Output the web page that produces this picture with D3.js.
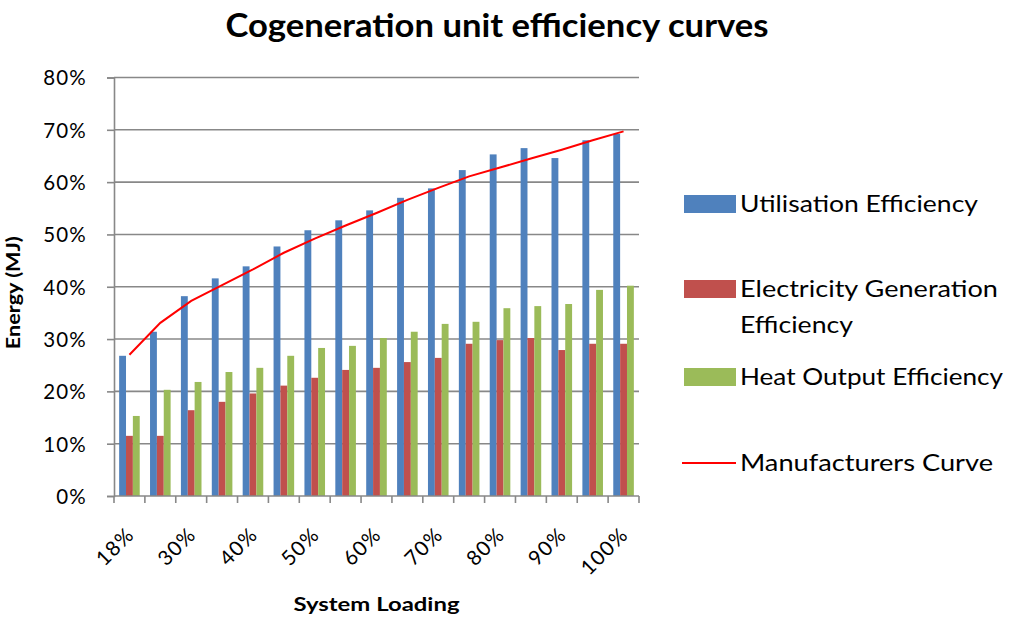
<!DOCTYPE html>
<html>
<head>
<meta charset="utf-8">
<script src="https://cdn.jsdelivr.net/npm/d3@7"></script>
<style>
  body { margin: 0; background: #fff; }
  svg { display: block; font-family: Lato, "Open Sans", sans-serif; }
</style>
</head>
<body>
<svg id="chart" width="1013" height="622"></svg>
<script>
// system loading categories (only every other one gets a label)
const categories = ['18%', '25%', '30%', '35%', '40%', '45%', '50%', '55%', '60%',
  '65%', '70%', '75%', '80%', '85%', '90%', '95%', '100%'];

// values in percent
const utilisation = [26.8, 31.4, 38.2, 41.6, 43.9, 47.7, 50.8, 52.7, 54.6, 57.0, 58.8, 62.3, 65.3, 66.5, 64.6, 68.0, 69.2];
const electricity = [11.5, 11.5, 16.4, 18.0, 19.6, 21.1, 22.6, 24.1, 24.5, 25.6, 26.4, 29.1, 29.8, 30.2, 27.9, 29.1, 29.1];
const heat = [15.3, 20.3, 21.8, 23.7, 24.5, 26.8, 28.3, 28.7, 30.2, 31.4, 32.9, 33.3, 35.9, 36.3, 36.7, 39.4, 40.2];
const manufacturers = [27.0, 33.1, 37.3, 40.3, 43.3, 46.5, 49.2, 51.7, 54.1, 56.6, 58.9, 61.1, 62.8, 64.5, 66.2, 68.0, 69.7];

const yTicks = [0, 10, 20, 30, 40, 50, 60, 70, 80];

const barSeries = [
  { name: 'Utilisation Efficiency', values: utilisation, color: '#4F81BD' },
  { name: 'Electricity Generation Efficiency', values: electricity, color: '#C0504D' },
  { name: 'Heat Output Efficiency', values: heat, color: '#9BBB59' },
];
const lineSeries = { name: 'Manufacturers Curve', values: manufacturers, color: '#FF0000' };

const svg = d3.select('#chart');
const plot = { left: 114, right: 639, top: 77.5, bottom: 496 };
const gridColor = '#888888';

// squeeze / stretch a text to a given width (the original font is Calibri)
function fit(sel, width) {
  sel.attr('textLength', width).attr('lengthAdjust', 'spacingAndGlyphs');
}

const x = d3.scaleBand().domain(categories).range([plot.left, plot.right]);
const xInner = d3.scaleBand().domain(barSeries.map(s => s.name))
  .range([0, x.bandwidth()]).paddingOuter(0.75);
const y = d3.scaleLinear().domain([0, 80]).range([plot.bottom, plot.top]);

// gridlines
svg.append('g')
  .selectAll('line')
  .data(yTicks.filter(d => d > 0))
  .enter()
  .append('line')
  .attr('x1', plot.left).attr('x2', plot.right)
  .attr('y1', d => y(d)).attr('y2', d => y(d))
  .attr('stroke', gridColor).attr('stroke-width', 1.6);

// y axis
const yAxis = svg.append('g')
  .attr('transform', `translate(${plot.left},0)`)
  .call(d3.axisLeft(y).tickValues(yTicks).tickSize(7).tickPadding(20).tickFormat(d => d + '%'));
yAxis.select('.domain').attr('stroke', gridColor).attr('stroke-width', 1.6);
yAxis.selectAll('.tick line').attr('stroke', gridColor).attr('stroke-width', 1.6);
yAxis.selectAll('.tick text')
  .attr('font-size', 20.5).attr('fill', '#000')
  .attr('font-family', 'Lato').style('letter-spacing', '1.2px')
  .attr('dy', '0.36em');

// bars
const groups = svg.append('g')
  .selectAll('g')
  .data(barSeries)
  .enter()
  .append('g')
  .attr('fill', s => s.color);

groups.selectAll('rect')
  .data(s => s.values.map((v, i) => ({ name: s.name, cat: categories[i], value: v })))
  .enter()
  .append('rect')
  .attr('x', d => x(d.cat) + xInner(d.name))
  .attr('width', xInner.bandwidth())
  .attr('y', d => y(d.value))
  .attr('height', d => y(0) - y(d.value));

// manufacturers curve
const line = d3.line()
  .x((d, i) => x(categories[i]) + x.bandwidth() / 2)
  .y(d => y(d));

svg.append('path')
  .datum(lineSeries.values)
  .attr('d', line)
  .attr('fill', 'none')
  .attr('stroke', lineSeries.color)
  .attr('stroke-width', 2);

// x axis: ticks on category boundaries, labels on every other category
const xAxis = svg.append('g');
xAxis.append('line')
  .attr('x1', plot.left).attr('x2', plot.right)
  .attr('y1', plot.bottom).attr('y2', plot.bottom)
  .attr('stroke', gridColor).attr('stroke-width', 1.6);
xAxis.selectAll('.bound')
  .data(categories.map(c => x(c)).concat([plot.right]))
  .enter()
  .append('line')
  .attr('class', 'bound')
  .attr('x1', d => d).attr('x2', d => d)
  .attr('y1', plot.bottom).attr('y2', plot.bottom + 7)
  .attr('stroke', gridColor).attr('stroke-width', 1.6);
xAxis.selectAll('.lab')
  .data(categories.filter((c, i) => i % 2 === 0))
  .enter()
  .append('text')
  .attr('class', 'lab')
  .attr('transform', c => `translate(${x(c) + x.bandwidth() / 2 + 6},536) rotate(-45)`)
  .attr('text-anchor', 'end')
  .attr('font-size', 20.5)
  .style('letter-spacing', '1.2px')
  .text(c => c);

// titles
svg.append('text')
  .attr('x', 497).attr('y', 37)
  .attr('text-anchor', 'middle')
  .attr('font-size', 32).attr('font-weight', 'bold')
  .text('Cogeneration unit efficiency curves')
  .call(fit, 543);

svg.append('text')
  .attr('x', (plot.left + plot.right) / 2).attr('y', 611)
  .attr('text-anchor', 'middle')
  .attr('font-size', 19.5).attr('font-weight', 'bold')
  .text('System Loading')
  .call(fit, 166);

svg.append('text')
  .attr('transform', `translate(20,${(plot.top + plot.bottom) / 2 + 6}) rotate(-90)`)
  .attr('text-anchor', 'middle')
  .attr('font-size', 19).attr('font-weight', 'bold')
  .text('Energy (MJ)')
  .call(fit, 113);

// legend
const legend = svg.append('g').attr('transform', 'translate(684,0)');
const legendRows = [
  { s: barSeries[0], y: 204, lines: ['Utilisation Efficiency'], widths: [238] },
  { s: barSeries[1], y: 289, lines: ['Electricity Generation', 'Efficiency'], widths: [258, 113] },
  { s: barSeries[2], y: 377, lines: ['Heat Output Efficiency'], widths: [263] },
  { s: lineSeries, y: 463, lines: ['Manufacturers Curve'], widths: [253], isLine: true },
];
legendRows.forEach(r => {
  if (r.isLine) {
    legend.append('line')
      .attr('x1', -2).attr('x2', 52).attr('y1', r.y).attr('y2', r.y)
      .attr('stroke', r.s.color).attr('stroke-width', 2);
  } else {
    legend.append('rect')
      .attr('x', 0).attr('y', r.y - 9).attr('width', 52).attr('height', 18)
      .attr('fill', r.s.color);
  }
  r.lines.forEach((t, k) => {
    legend.append('text')
      .attr('x', 56).attr('y', r.y + 8 + k * 36)
      .attr('font-size', 23.5)
      .text(t)
      .call(fit, r.widths[k]);
  });
});
</script>
</body>
</html>
